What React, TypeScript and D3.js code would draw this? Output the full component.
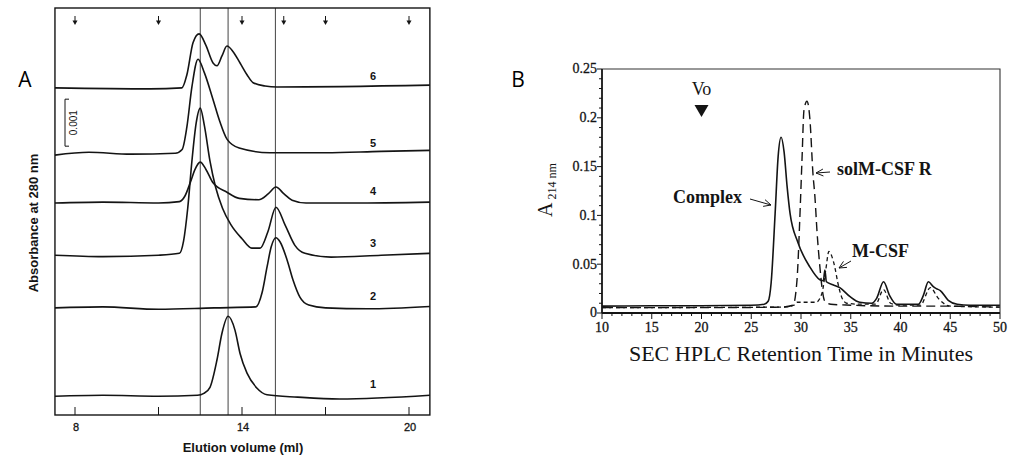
import React from "react";
import * as d3 from "d3";

// ---------- Panel A: elution profiles (absorbance in units of 0.001 above each trace baseline)
const traceNamesA = ["1", "2", "3", "4", "5", "6"];
const baselinesA = [0.4, 2.28, 3.4, 4.51, 5.53, 6.96];

const trace1: [number, number][] = [
  [7.28, 0], [9, 0.02], [11, 0], [12.4, 0.02], [12.63, 0.06], [12.85, 0.19], [13.1, 0.77],
  [13.28, 1.34], [13.5, 1.7], [13.75, 1.4], [13.93, 0.91], [14.18, 0.49], [14.54, 0.17],
  [14.9, 0.03], [16, -0.02], [17.5, -0.06], [20.75, 0.02],
];
const trace2: [number, number][] = [
  [7.28, 0], [9, 0.02], [11, -0.03], [13, 0], [14.5, 0.02], [14.72, 0.32], [14.9, 0.87],
  [15.05, 1.3], [15.22, 1.49], [15.37, 1.4], [15.62, 1.02], [15.83, 0.6], [16.08, 0.23],
  [16.4, 0.06], [17, 0], [18.5, -0.02], [20.75, 0.03],
];
const trace3: [number, number][] = [
  [7.28, 0], [9, -0.03], [11, 0], [11.75, 0.04], [11.9, 0.3], [12.05, 1.0], [12.2, 2.0],
  [12.35, 2.8], [12.5, 3.13], [12.65, 2.75], [12.85, 2.0], [13.05, 1.45], [13.3, 1.0],
  [13.6, 0.65], [14.0, 0.35], [14.35, 0.15], [14.65, 0.15], [14.93, 0.5], [15.22, 1.02],
  [15.55, 0.64], [15.9, 0.21], [16.26, 0.04], [17.2, -0.04], [19, 0], [20.75, 0.04],
];
const trace4: [number, number][] = [
  [7.28, 0], [9, 0.02], [11, 0], [11.75, 0.03], [11.95, 0.15], [12.15, 0.45], [12.3, 0.7],
  [12.5, 0.87], [12.7, 0.72], [12.96, 0.43], [13.46, 0.23], [13.9, 0.1], [14.6, 0.07],
  [14.95, 0.2], [15.22, 0.34], [15.5, 0.2], [15.8, 0.06], [16.3, 0], [18, 0], [20.75, 0.02],
];
const trace5: [number, number][] = [
  [7.28, 0], [8.5, 0.06], [10, 0.02], [11.6, 0.04], [11.85, 0.12], [12.02, 0.6],
  [12.2, 1.45], [12.42, 2.04], [12.65, 1.75], [12.95, 1.2], [13.2, 0.72], [13.46, 0.34],
  [13.9, 0.15], [15, 0.05], [17, 0.05], [19, 0.08], [20.75, 0.1],
];
const trace6: [number, number][] = [
  [7.28, 0], [10.7, -0.02], [11.84, 0], [12.02, 0.28], [12.24, 0.96], [12.46, 1.15],
  [12.7, 0.91], [12.96, 0.53], [13.1, 0.47], [13.28, 0.68], [13.46, 0.89], [13.68, 0.77],
  [13.93, 0.53], [14.18, 0.28], [14.4, 0.11], [14.83, 0.04], [15.26, 0.02], [20.75, 0.06],
];
const tracesA = [trace1, trace2, trace3, trace4, trace5, trace6];

const guideLinesA = [12.5, 13.5, 15.2];
const markerArrowsA = [8, 11, 14, 15.5, 17, 20];
const ticksA = [8, 11, 14, 17, 20];
const tickLabelsA = [8, 14, 20];

// ---------- Panel B: SEC HPLC (minutes vs A214)
const complexCurve: [number, number][] = [
  [10, 0.007], [15, 0.0075], [20, 0.0075], [25, 0.008], [26.3, 0.009], [26.7, 0.012],
  [27, 0.031], [27.4, 0.102], [27.7, 0.16], [28.0, 0.18], [28.3, 0.165], [28.6, 0.13],
  [28.9, 0.102], [29.7, 0.072], [30.9, 0.047], [31.9, 0.034], [32.25, 0.033], [32.4, 0.044],
  [32.55, 0.032], [33.2, 0.029], [33.9, 0.026], [34.9, 0.017], [35.9, 0.011], [37.1, 0.01],
  [37.6, 0.015], [38.3, 0.032], [38.9, 0.018], [39.6, 0.009], [41.8, 0.009], [42.3, 0.018],
  [42.8, 0.032], [43.3, 0.027], [43.6, 0.025], [44.0, 0.023], [44.8, 0.013], [45.7, 0.009],
  [47, 0.008], [50, 0.008],
];
const receptorCurve: [number, number][] = [
  [10, 0.0055], [20, 0.0055], [28, 0.006], [29.2, 0.008], [29.6, 0.034], [29.9, 0.102],
  [30.1, 0.157], [30.3, 0.208], [30.6, 0.217], [30.9, 0.198], [31.2, 0.143], [31.4, 0.119],
  [31.6, 0.085], [31.9, 0.047], [32.1, 0.027], [32.4, 0.012], [33, 0.009], [35, 0.008],
  [40, 0.007], [45, 0.007], [50, 0.006],
];
const mcsfCurve: [number, number][] = [
  [10, 0.0055], [28, 0.006], [29.3, 0.008], [29.6, 0.011], [31.5, 0.011], [32.1, 0.02],
  [32.5, 0.045], [32.8, 0.063], [33.1, 0.058], [33.4, 0.047], [33.7, 0.031], [34.1, 0.016],
  [34.6, 0.01], [36, 0.009], [37.5, 0.009], [38.3, 0.024], [39, 0.01], [40, 0.008],
  [42, 0.008], [43, 0.026], [43.8, 0.015], [45, 0.007], [50, 0.006],
];
const xTicksB = [10, 15, 20, 25, 30, 35, 40, 45, 50];
const yTicksB = [0, 0.05, 0.1, 0.15, 0.2, 0.25];

const ink = "#141414";
const sansA = "'Liberation Sans', Arial, sans-serif";
const serifB = "'Liberation Serif', 'Times New Roman', serif";

function openArrow(x1: number, y1: number, x2: number, y2: number, len = 8) {
  const a = Math.atan2(y2 - y1, x2 - x1);
  const s = 0.45;
  const p1 = [x2 - len * Math.cos(a - s), y2 - len * Math.sin(a - s)];
  const p2 = [x2 - len * Math.cos(a + s), y2 - len * Math.sin(a + s)];
  return `M${x1},${y1}L${x2},${y2}M${p1[0]},${p1[1]}L${x2},${y2}L${p2[0]},${p2[1]}`;
}

function PanelA() {
  const x = d3.scaleLinear().domain([8, 20]).range([75, 409]);
  const y = d3.scaleLinear().domain([0, 8.66]).range([415, 8]);
  const left = x(7.28), right = x(20.75), top = y(8.66), bottom = y(0);

  return (
    <g>
      <text x={25} y={87} fontFamily="'Open Sans', sans-serif" fontSize={21} textAnchor="middle" fill="#000">A</text>

      {/* guide lines */}
      {guideLinesA.map((v) => (
        <line key={v} x1={x(v)} x2={x(v)} y1={top} y2={bottom} stroke="#444" strokeWidth={1} />
      ))}

      {/* traces */}
      {tracesA.map((pts, i) => {
        const base = baselinesA[i];
        const line = d3.line<[number, number]>()
          .x((d) => x(d[0]))
          .y((d) => y(d[1] + base))
          .curve(d3.curveMonotoneX);
        return (
          <g key={i}>
            <path d={line(pts) ?? ""} fill="none" stroke={ink} strokeWidth={1.6} />
            <text x={373} y={y(base) - 12} dy="0.35em" textAnchor="middle" fontFamily={sansA}
              fontWeight="bold" fontSize={11} fill={ink}>{traceNamesA[i]}</text>
          </g>
        );
      })}

      {/* frame */}
      <rect x={left} y={top} width={right - left} height={bottom - top} fill="none" stroke={ink} strokeWidth={1.4} />

      {/* markers at the top */}
      {markerArrowsA.map((v) => (
        <g key={v}>
          <line x1={x(v)} x2={x(v)} y1={16} y2={22} stroke={ink} strokeWidth={1} />
          <path d={`M${x(v) - 2.5},${20.5}L${x(v) + 2.5},${20.5}L${x(v)},${25}Z`} fill={ink} />
        </g>
      ))}

      {/* scale bar */}
      <path d={`M${69},${y(6.72)}H${65}V${y(5.72)}H${69}`} fill="none" stroke={ink} strokeWidth={1} />
      <text transform={`translate(73,${(y(6.72) + y(5.72)) / 2}) rotate(-90)`} textAnchor="middle"
        dy="0.35em" fontFamily={sansA} fontSize={10} fill={ink}>0.001</text>

      {/* x ticks */}
      {ticksA.map((v) => (
        <line key={v} x1={x(v)} x2={x(v)} y1={bottom} y2={bottom - 8} stroke={ink} strokeWidth={1} />
      ))}
      {tickLabelsA.map((v) => (
        <text key={v} x={x(v) + 1} y={431} textAnchor="middle" fontFamily={sansA} fontSize={11}
          stroke={ink} strokeWidth={0.3} fill={ink}>{v}</text>
      ))}

      <text x={243} y={452} textAnchor="middle" fontFamily={sansA} fontWeight="bold" fontSize={13} fill={ink}>
        Elution volume (ml)
      </text>
      <text transform="translate(33,223) rotate(-90)" textAnchor="middle" dy="0.35em" fontFamily={sansA}
        fontWeight="bold" fontSize={13} fill={ink}>Absorbance at 280 nm</text>
    </g>
  );
}

function PanelB() {
  const x = d3.scaleLinear().domain([10, 50]).range([602, 1000]);
  const y = d3.scaleLinear().domain([0, 0.25]).range([313, 69]);
  const line = d3.line<[number, number]>()
    .x((d) => x(d[0]))
    .y((d) => y(d[1]))
    .curve(d3.curveMonotoneX);
  const minorX = d3.range(10, 51, 1);
  const minorY = d3.range(0, 0.2501, 0.01);
  const fmt = (v: number) => String(+v.toFixed(2));

  return (
    <g>
      <text x={518} y={87} fontFamily="'Open Sans', sans-serif" fontSize={21} textAnchor="middle" fill="#000">B</text>

      {/* curves */}
      <path d={line(receptorCurve) ?? ""} fill="none" stroke={ink} strokeWidth={1.4} strokeDasharray="9,5" />
      <path d={line(mcsfCurve) ?? ""} fill="none" stroke={ink} strokeWidth={1.3} strokeDasharray="4,3" />
      <path d={line(complexCurve) ?? ""} fill="none" stroke={ink} strokeWidth={1.6} />

      {/* frame: top/right thin */}
      <path d={`M${x(10)},${y(0.25)}H${x(50)}V${y(0)}`} fill="none" stroke="#333" strokeWidth={1.1} />
      {/* axes */}
      <line x1={x(10)} x2={x(50)} y1={y(0)} y2={y(0)} stroke={ink} strokeWidth={2} />
      <line x1={x(10)} x2={x(10)} y1={y(0)} y2={y(0.25)} stroke={ink} strokeWidth={1.8} />

      {minorX.map((v) => (
        <line key={"mx" + v} x1={x(v)} x2={x(v)} y1={y(0)} y2={y(0) + (v % 5 === 0 ? 6 : 3)} stroke={ink} strokeWidth={1} />
      ))}
      {minorY.map((v, i) => (
        <line key={"my" + i} x1={x(10)} x2={x(10) - (i % 5 === 0 ? 5 : 3)} y1={y(v)} y2={y(v)} stroke={ink} strokeWidth={1} />
      ))}

      {xTicksB.map((v) => (
        <text key={v} x={x(v)} y={332} textAnchor="middle" fontFamily={serifB} fontSize={14}
          stroke={ink} strokeWidth={0.3} fill={ink}>{v}</text>
      ))}
      {yTicksB.map((v) => (
        <text key={v} x={597} y={y(v)} dy="0.32em" textAnchor="end" fontFamily={serifB} fontSize={14}
          stroke={ink} strokeWidth={0.3} fill={ink}>{fmt(v)}</text>
      ))}

      <text x={801} y={361} textAnchor="middle" fontFamily={serifB} fontSize={22} fill={ink}>
        SEC HPLC Retention Time in Minutes
      </text>
      <text transform="translate(552,217) rotate(-90)" fontFamily={serifB} fill={ink}>
        <tspan fontSize={20}>A</tspan>
        <tspan fontSize={12} dx={3} dy={4}>214 nm</tspan>
      </text>

      {/* Vo marker */}
      <text x={x(20)} y={95} textAnchor="middle" fontFamily={serifB} fontSize={18} fill={ink}>Vo</text>
      <path d={`M${x(20) - 7},${105}L${x(20) + 7},${105}L${x(20)},${117}Z`} fill={ink} />

      {/* annotations */}
      <text x={673} y={203} fontFamily={serifB} fontWeight="bold" fontSize={18} fill={ink}>Complex</text>
      <path d={openArrow(750, 199, 771, 205)} fill="none" stroke={ink} strokeWidth={1} />
      <text x={837} y={175} fontFamily={serifB} fontWeight="bold" fontSize={18} fill={ink}>solM-CSF R</text>
      <path d={openArrow(830, 172, 816, 173)} fill="none" stroke={ink} strokeWidth={1} />
      <text x={852} y={257} fontFamily={serifB} fontWeight="bold" fontSize={18} fill={ink}>M-CSF</text>
      <path d={openArrow(851, 261, 839, 268)} fill="none" stroke={ink} strokeWidth={1} />
    </g>
  );
}

export default function App() {
  return (
    <svg width={1015} height={455} style={{ position: "absolute", left: 0, top: 0, background: "#fff" }}>
      <rect width={1015} height={455} fill="#fff" />
      <PanelA />
      <PanelB />
    </svg>
  );
}
